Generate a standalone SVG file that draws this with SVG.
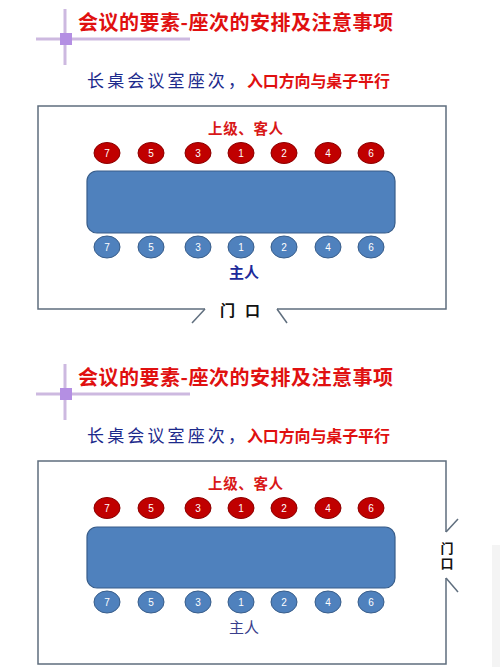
<svg xmlns="http://www.w3.org/2000/svg" width="500" height="667" viewBox="0 0 500 667">
<defs>
<style>
.cross{stroke:#cdb9e0;stroke-width:3;fill:none}
.dot{fill:#b48fe3}
.title{font-family:"Noto Sans CJK SC","Liberation Sans",sans-serif;font-weight:bold;font-size:20px;fill:#e01010}
.sub{font-family:"Noto Sans CJK SC","Liberation Sans",sans-serif;font-size:17px;fill:#1c2a8c}
.subr{font-family:"Noto Sans CJK SC","Liberation Sans",sans-serif;font-size:16px;font-weight:bold;fill:#e01010}
.room{stroke:#5f6e7e;stroke-width:1.5;fill:none}
.guest{font-family:"Noto Sans CJK SC","Liberation Sans",sans-serif;font-size:14.5px;font-weight:bold;fill:#d81818}
.host{font-family:"Noto Sans CJK SC","Liberation Sans",sans-serif;font-size:15px;font-weight:bold;fill:#1c2a9a}
.host2{font-family:"Noto Sans CJK SC","Liberation Sans",sans-serif;font-size:15px;fill:#3a3f8c}
.door{font-family:"Noto Sans CJK SC","Liberation Sans",sans-serif;font-size:15px;font-weight:bold;fill:#111}
.door2{font-family:"Noto Sans CJK SC","Liberation Sans",sans-serif;font-size:13px;font-weight:bold;fill:#111;writing-mode:vertical-rl;letter-spacing:2px}
.table{fill:#4f81bd;stroke:#385d8a;stroke-width:1.2}
.rs{fill:#c00000;stroke:#8c0000;stroke-width:1}
.bs{fill:#4f81bd;stroke:#385d8a;stroke-width:1}
.num{font-family:"Liberation Sans",sans-serif;font-size:10px;fill:#fff;text-anchor:middle}
</style>
</defs>
<rect x="492" y="545" width="8" height="122" fill="#f4f4f4"/>

<g id="header-top">
<line class="cross" x1="36" y1="39" x2="190" y2="39"/>
<line class="cross" x1="65" y1="9" x2="65" y2="65"/>
<rect class="dot" x="60" y="33" width="12" height="12"/>
<text class="title" x="78" y="30" textLength="315">会议的要素-座次的安排及注意事项</text>
<text class="sub" x="87" y="87" textLength="158">长桌会议室座次，</text>
<text class="subr" x="247" y="87" textLength="143">入口方向与桌子平行</text>
</g>

<g id="room-top">
<polyline class="room" points="205,309 38,309 38,106 446,106 446,309 277,309"/>
<line class="room" x1="205" y1="309" x2="192" y2="323"/>
<line class="room" x1="277" y1="309" x2="287" y2="323"/>
<text class="door" x="220" y="316">门</text>
<text class="door" x="245" y="316">口</text>
</g>
<g id="table-top">
<rect class="table" x="87" y="171" width="308" height="62" rx="10"/>
<text class="guest" x="208" y="134" textLength="75">上级、客人</text>
<text class="host" x="229" y="278">主人</text>
</g>
<g id="seats-top">
<ellipse class="rs" cx="107" cy="153" rx="13" ry="10.5"/><text class="num" x="107" y="157">7</text>
<ellipse class="rs" cx="151" cy="153" rx="13" ry="10.5"/><text class="num" x="151" y="157">5</text>
<ellipse class="rs" cx="198" cy="153" rx="13" ry="10.5"/><text class="num" x="198" y="157">3</text>
<ellipse class="rs" cx="241" cy="153" rx="13" ry="10.5"/><text class="num" x="241" y="157">1</text>
<ellipse class="rs" cx="284" cy="153" rx="13" ry="10.5"/><text class="num" x="284" y="157">2</text>
<ellipse class="rs" cx="328" cy="153" rx="13" ry="10.5"/><text class="num" x="328" y="157">4</text>
<ellipse class="rs" cx="371" cy="153" rx="13" ry="10.5"/><text class="num" x="371" y="157">6</text>
<ellipse class="bs" cx="107" cy="247" rx="13" ry="11"/><text class="num" x="107" y="251">7</text>
<ellipse class="bs" cx="151" cy="247" rx="13" ry="11"/><text class="num" x="151" y="251">5</text>
<ellipse class="bs" cx="198" cy="247" rx="13" ry="11"/><text class="num" x="198" y="251">3</text>
<ellipse class="bs" cx="241" cy="247" rx="13" ry="11"/><text class="num" x="241" y="251">1</text>
<ellipse class="bs" cx="284" cy="247" rx="13" ry="11"/><text class="num" x="284" y="251">2</text>
<ellipse class="bs" cx="328" cy="247" rx="13" ry="11"/><text class="num" x="328" y="251">4</text>
<ellipse class="bs" cx="371" cy="247" rx="13" ry="11"/><text class="num" x="371" y="251">6</text>
</g>

<g id="header-bottom">
<line class="cross" x1="36" y1="394" x2="190" y2="394"/>
<line class="cross" x1="65" y1="364" x2="65" y2="420"/>
<rect class="dot" x="60" y="388" width="12" height="12"/>
<text class="title" x="78" y="385" textLength="315">会议的要素-座次的安排及注意事项</text>
<text class="sub" x="87" y="442" textLength="158">长桌会议室座次，</text>
<text class="subr" x="247" y="442" textLength="143">入口方向与桌子平行</text>
</g>
<g id="room-bottom">
<polyline class="room" points="446,532 446,461 38,461 38,664 446,664 446,578"/>
<line class="room" x1="446" y1="532" x2="458" y2="519"/>
<line class="room" x1="446" y1="578" x2="458" y2="592"/>
<text class="door2" x="447" y="542">门口</text>
</g>
<g id="table-bottom">
<rect class="table" x="87" y="527" width="308" height="61" rx="10"/>
<text class="guest" x="208" y="489" textLength="75">上级、客人</text>
<text class="host2" x="229" y="633">主人</text>
</g>
<g id="seats-bottom">
<ellipse class="rs" cx="107" cy="508" rx="13" ry="10.5"/><text class="num" x="107" y="512">7</text>
<ellipse class="rs" cx="151" cy="508" rx="13" ry="10.5"/><text class="num" x="151" y="512">5</text>
<ellipse class="rs" cx="198" cy="508" rx="13" ry="10.5"/><text class="num" x="198" y="512">3</text>
<ellipse class="rs" cx="241" cy="508" rx="13" ry="10.5"/><text class="num" x="241" y="512">1</text>
<ellipse class="rs" cx="284" cy="508" rx="13" ry="10.5"/><text class="num" x="284" y="512">2</text>
<ellipse class="rs" cx="328" cy="508" rx="13" ry="10.5"/><text class="num" x="328" y="512">4</text>
<ellipse class="rs" cx="371" cy="508" rx="13" ry="10.5"/><text class="num" x="371" y="512">6</text>
<ellipse class="bs" cx="107" cy="602" rx="13" ry="11"/><text class="num" x="107" y="606">7</text>
<ellipse class="bs" cx="151" cy="602" rx="13" ry="11"/><text class="num" x="151" y="606">5</text>
<ellipse class="bs" cx="198" cy="602" rx="13" ry="11"/><text class="num" x="198" y="606">3</text>
<ellipse class="bs" cx="241" cy="602" rx="13" ry="11"/><text class="num" x="241" y="606">1</text>
<ellipse class="bs" cx="284" cy="602" rx="13" ry="11"/><text class="num" x="284" y="606">2</text>
<ellipse class="bs" cx="328" cy="602" rx="13" ry="11"/><text class="num" x="328" y="606">4</text>
<ellipse class="bs" cx="371" cy="602" rx="13" ry="11"/><text class="num" x="371" y="606">6</text>
</g>
</svg>
